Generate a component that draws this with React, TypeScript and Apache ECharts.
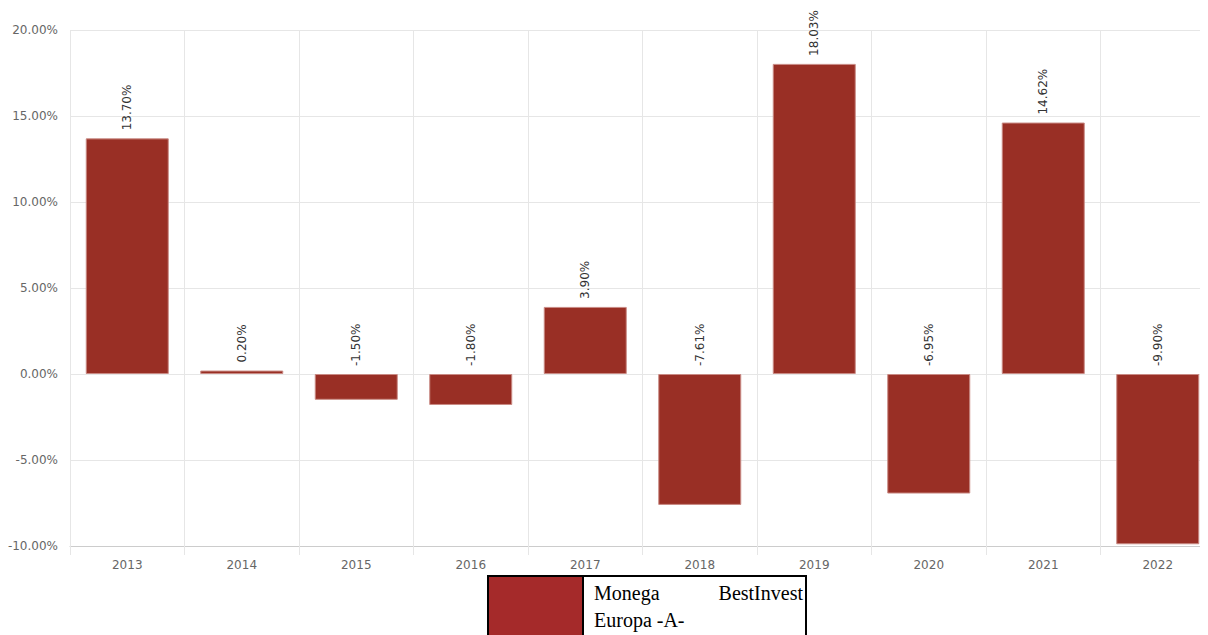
import React, { useEffect, useRef } from "react";
import * as echarts from "echarts";

const categories = ["2013", "2014", "2015", "2016", "2017", "2018", "2019", "2020", "2021", "2022"];
const values = [13.7, 0.2, -1.5, -1.8, 3.9, -7.61, 18.03, -6.95, 14.62, -9.9];
const seriesName = "Monega BestInvest Europa -A-";

export default function App() {
  const ref = useRef<HTMLDivElement>(null);
  useEffect(() => {
    if (!ref.current) return;
    const chart = echarts.init(ref.current, undefined, { renderer: "svg" });
    chart.setOption({
      animation: false,
      grid: { left: 62, right: 0, top: 22, bottom: 89, containLabel: false, outerBoundsMode: "none" },
      xAxis: {
        type: "category",
        data: categories,
        axisLine: { show: true, onZero: false, lineStyle: { color: "#cccccc" } },
        axisTick: { show: true, length: 9, lineStyle: { color: "#e6e6e6" } },
        axisLabel: { color: "#666666", fontSize: 12, fontFamily: "DejaVu Sans", margin: 13 },
        splitLine: { show: true, lineStyle: { color: "#e6e6e6" } },
      },
      yAxis: {
        type: "value",
        min: -10,
        max: 20,
        interval: 5,
        axisLine: { show: false },
        axisTick: { show: false },
        axisLabel: {
          color: "#666666",
          fontSize: 12,
          fontFamily: "DejaVu Sans",
          margin: 12,
          formatter: (v: number) => v.toFixed(2) + "%",
        },
        splitLine: { show: true, lineStyle: { color: "#e6e6e6" } },
      },
      series: [
        {
          name: seriesName,
          type: "bar",
          data: values,
          barWidth: 83,
          itemStyle: { color: "#992f25", borderColor: "#c98a84", borderWidth: 1 },
          label: {
            show: true,
            position: "top",
            rotate: 90,
            align: "left",
            verticalAlign: "middle",
            distance: 8,
            color: "#333333",
            fontSize: 12,
            fontFamily: "DejaVu Sans",
            formatter: (p: any) => Number(p.value).toFixed(2) + "%",
          },
        },
      ],
      graphic: [
        {
          type: "rect",
          shape: { x: 480, y: 568, width: 318, height: 70 },
          style: { fill: "#ffffff", stroke: "#000000", lineWidth: 2 },
          z: 10,
        },
        {
          type: "rect",
          shape: { x: 480, y: 568, width: 95, height: 70 },
          style: { fill: "#a52a2a", stroke: "#000000", lineWidth: 2 },
          z: 11,
        },
        {
          type: "text",
          x: 586,
          y: 585,
          style: {
            text: "Monega",
            fill: "#000000",
            font: "20px 'Liberation Serif'",
            verticalAlign: "middle",
            align: "left",
          },
          z: 12,
        },
        {
          type: "text",
          x: 795,
          y: 585,
          style: {
            text: "BestInvest",
            fill: "#000000",
            font: "20px 'Liberation Serif'",
            verticalAlign: "middle",
            align: "right",
          },
          z: 12,
        },
        {
          type: "text",
          x: 586,
          y: 612,
          style: {
            text: "Europa -A-",
            fill: "#000000",
            font: "20px 'Liberation Serif'",
            verticalAlign: "middle",
            align: "left",
          },
          z: 12,
        },
      ],
    });
    return () => chart.dispose();
  }, []);
  return (
    <div style={{ width: 1200, height: 627, overflow: "hidden" }}>
      <div ref={ref} style={{ width: 1207, height: 627 }} />
    </div>
  );
}
